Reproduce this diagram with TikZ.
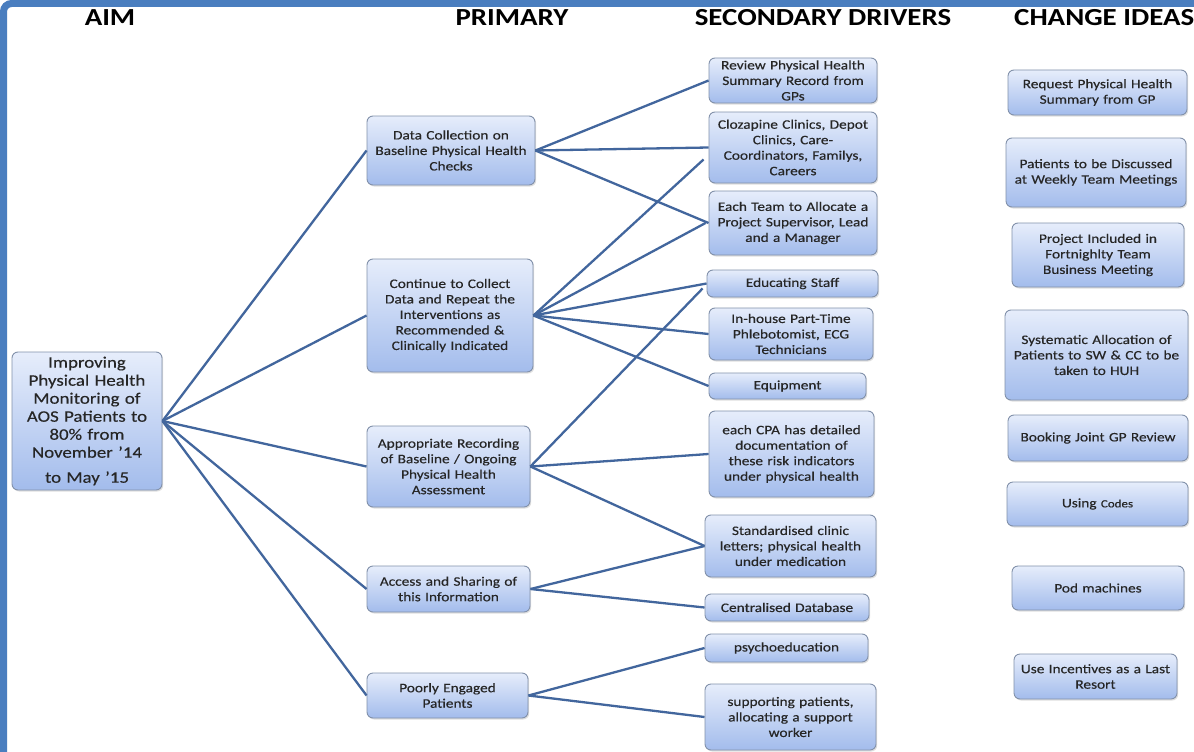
\documentclass[tikz,border=0pt]{standalone}
\usepackage{fontspec}
\setmainfont{Carlito}[FakeStretch=1.18, UprightFeatures={FakeBold=0.35}]
\usetikzlibrary{calc,shadows}

\definecolor{frameblue}{HTML}{4A7EBF}
\definecolor{boxtop}{HTML}{E6EDFB}
\definecolor{boxbot}{HTML}{A3BCEC}
\definecolor{boxline}{HTML}{8291AA}
\definecolor{linkblue}{HTML}{42669D}
\definecolor{txtgray}{HTML}{262626}

\tikzset{
  drv/.style={draw=boxline, line width=0.9pt, rounded corners=6pt,
    top color=boxtop, bottom color=boxbot, text=txtgray, align=center,
    inner sep=0pt, font=\fontsize{13}{15.5}\selectfont,
    drop shadow={opacity=0.25, shadow xshift=1.2pt, shadow yshift=-1.5pt}},
  sz/.style 2 args={minimum width=#1pt, minimum height=#2pt, text width=#1pt-4pt},
  head/.style={font=\fontsize{24.5}{26}\selectfont\bfseries, text=black},
  link/.style={linkblue, line width=2.3pt}
}

\begin{document}
\begin{tikzpicture}[x=1pt,y=-1pt]
  \useasboundingbox (0,0) rectangle (1194,752);
  %\draw[help lines] (0,0) grid[step=50] (1194,752);
  \fill[white] (0,0) rectangle (1194,752);
  \draw[frameblue, line width=7pt, rounded corners=8pt] (3.5,770) -- (3.5,3.5) -- (1210,3.5);

  % column heads
  \node[head] (haim) at (110,18) {AIM};
  \node[head] (hprim) at (512,18) {PRIMARY};
  \node[head] (hsec) at (823,18) {SECONDARY DRIVERS};
  \node[head, anchor=west, inner sep=0pt] (hidea) at (1014,18) {CHANGE IDEAS};

  % aim
  \node[drv, sz={150}{138}, font=\fontsize{16}{18}\selectfont] (aim) at (87,421)
    {Improving\\ Physical Health\\ Monitoring of\\ AOS Patients to\\ 80\% from\\ November '14\\[7pt] to May '15};

  % primary
  \node[drv, sz={168}{69}] (data) at (451,150.5) {Data Collection on\\ Baseline Physical Health\\ Checks};
  \node[drv, sz={166}{113}] (cont) at (450,315.5) {Continue to Collect\\ Data and Repeat the\\ Interventions as\\ Recommended \&\\ Clinically Indicated};
  \node[drv, sz={163}{81}] (appr) at (448.5,466.5) {Appropriate Recording\\ of Baseline / Ongoing\\ Physical Health\\ Assessment};
  \node[drv, sz={163}{46}] (acc) at (448.5,589) {Access and Sharing of\\ this Information};
  \node[drv, sz={161}{45}] (poor) at (447.5,695.5) {Poorly Engaged\\ Patients};

  % secondary drivers
  \node[drv, sz={168}{45}] (rev) at (793,80.5) {Review Physical Health\\ Summary Record from\\ GPs};
  \node[drv, sz={168}{71}] (cloz) at (793,147.5) {Clozapine Clinics, Depot\\ Clinics, Care-\\ Coordinators, Familys,\\ Careers};
  \node[drv, sz={168}{64}] (team) at (793,223) {Each Team to Allocate a\\ Project Supervisor, Lead\\ and a Manager};
  \node[drv, sz={171}{27}] (edu) at (792.5,283.5) {Educating Staff};
  \node[drv, sz={164}{52}] (phleb) at (791,334) {In-house Part-Time\\ Phlebotomist, ECG\\ Technicians};
  \node[drv, sz={157}{26}] (equip) at (787.5,386) {Equipment};
  \node[drv, sz={165}{86}] (cpa) at (791.5,454) {each CPA has detailed\\ documentation of\\ these risk indicators\\ under physical health};
  \node[drv, sz={171}{62}] (std) at (790.5,546) {Standardised clinic\\ letters; physical health\\ under medication};
  \node[drv, sz={164}{27}] (db) at (787,607.5) {Centralised Database};
  \node[drv, sz={163}{28}] (psy) at (786.5,648) {psychoeducation};
  \node[drv, sz={171}{66}] (supp) at (790.5,717) {supporting patients,\\ allocating a support\\ worker};

  % change ideas
  \node[drv, sz={179}{45}] (req) at (1097.5,92.5) {Request Physical Health\\ Summary from GP};
  \node[drv, sz={180}{69}] (disc) at (1096,172.5) {Patients to be Discussed\\ at Weekly Team Meetings};
  \node[drv, sz={172}{64}] (proj) at (1098,255) {Project Included in\\ Fortnighlty Team\\ Business Meeting};
  \node[drv, sz={183}{90}] (sys) at (1096.5,355) {Systematic Allocation of\\ Patients to SW \& CC to be\\ taken to HUH};
  \node[drv, sz={180}{46}] (book) at (1098,438) {Booking Joint GP Review};
  \node[drv, sz={181}{44}] (codes) at (1097.5,504) {Using {\fontsize{11}{13}\selectfont Codes}};
  \node[drv, sz={172}{44}] (pod) at (1098,588) {Pod machines};
  \node[drv, sz={163}{45}] (inc) at (1095.5,676.5) {Use Incentives as a Last\\ Resort};

  % aim -> primary
  \foreach \p in {data,cont,appr,acc,poor}
    \draw[link] (aim.east) -- (\p.west);

  % primary -> secondary
  \draw[link] (data.east) -- (rev.west);
  \draw[link] (data.east) -- (cloz.west);
  \draw[link] (data.east) -- (team.west);
  \draw[link] (cont.east) -- ([shift={(-5,12)}]cloz.west);
  \draw[link] (cont.east) -- ([xshift=-3]team.west);
  \draw[link] (cont.east) -- (edu.west);
  \draw[link] (cont.east) -- (phleb.west);
  \draw[link] (cont.east) -- (equip.west);
  \draw[link] (appr.east) -- ([shift={(-4,5)}]edu.west);
  \draw[link] (appr.east) -- (cpa.west);
  \draw[link] (appr.east) -- (std.west);
  \draw[link] (acc.east) -- (std.west);
  \draw[link] (acc.east) -- (db.west);
  \draw[link] (poor.east) -- (psy.west);
  \draw[link] (poor.east) -- (supp.west);
\end{tikzpicture}
\end{document}
